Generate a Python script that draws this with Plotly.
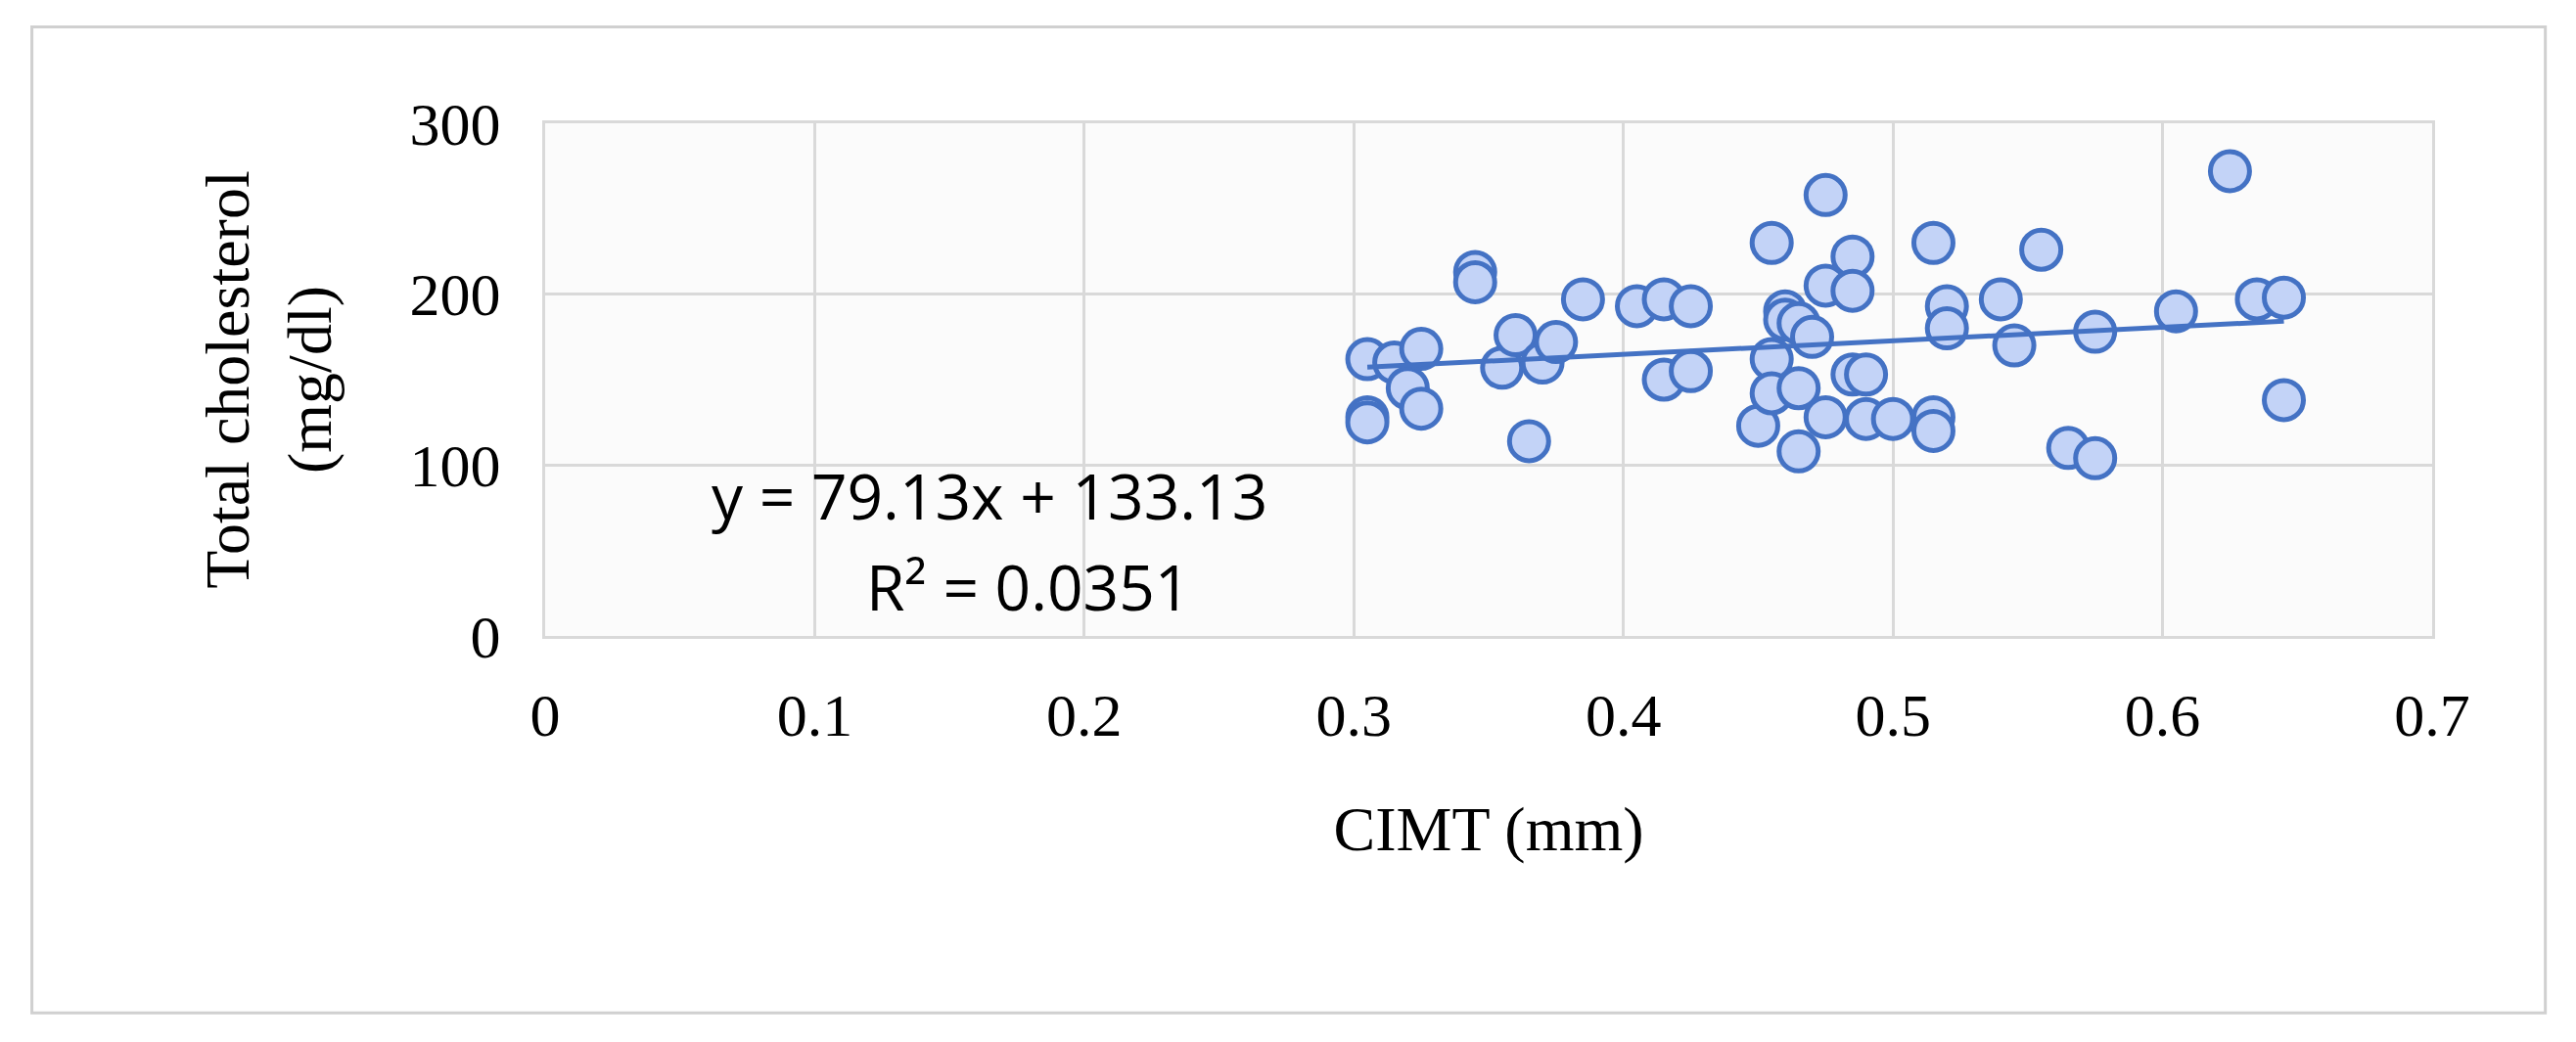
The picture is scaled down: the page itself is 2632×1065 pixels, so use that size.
import plotly.graph_objects as go

# CIMT (mm) and total cholesterol (mg/dl)
cimt = [0.305, 0.305, 0.305, 0.315, 0.32, 0.325, 0.325, 0.345, 0.345, 0.355,
        0.36, 0.365, 0.37, 0.375, 0.385, 0.405, 0.415, 0.415, 0.425, 0.425,
        0.45, 0.455, 0.455, 0.455, 0.46, 0.46, 0.465, 0.465, 0.465, 0.47,
        0.475, 0.475, 0.475, 0.485, 0.485, 0.485, 0.49, 0.49, 0.5, 0.515,
        0.515, 0.515, 0.52, 0.52, 0.54, 0.545, 0.555, 0.565, 0.575, 0.575,
        0.605, 0.625, 0.635, 0.645, 0.645]
chol = [162, 128, 125, 160, 145, 168, 133, 213, 207, 157,
        176, 114, 160, 172, 197, 193, 197, 150, 193, 155,
        123, 230, 162, 142, 190, 185, 183, 145, 108, 175,
        258, 205, 128, 222, 202, 153, 153, 127, 127, 230,
        128, 120, 193, 180, 197, 170, 226, 110, 178, 104,
        190, 272, 197, 198, 138]

slope, intercept = 79.13, 133.13
trend_x = [min(cimt), max(cimt)]
trend_y = [slope * v + intercept for v in trend_x]

serif = "Liberation Serif"

fig = go.Figure()
fig.add_trace(go.Scatter(
    x=cimt, y=chol, mode="markers",
    marker=dict(size=40, color="#c3d3f7",
                line=dict(color="#4472c4", width=5)),
    showlegend=False))
fig.add_trace(go.Scatter(
    x=trend_x, y=trend_y, mode="lines",
    line=dict(color="#4472c4", width=5), showlegend=False))

fig.add_annotation(x=0.165, y=82, text="y = 79.13x + 133.13", showarrow=False,
                   font=dict(family="Open Sans", size=64, color="black"))
fig.add_annotation(x=0.179, y=29, text="R² = 0.0351", showarrow=False,
                   font=dict(family="Open Sans", size=64, color="black"))

# outer chart border
fig.add_shape(type="rect", xref="paper", yref="paper",
              x0=-0.272, x1=1.06, y0=-0.735, y1=1.188,
              line=dict(color="#d0d0d0", width=3))

fig.update_layout(
    width=2632, height=1065,
    margin=dict(l=549, r=155, t=118, b=423),
    paper_bgcolor="white", plot_bgcolor="#fbfbfb",
    font=dict(family=serif, size=62, color="black"))
fig.update_xaxes(range=[0, 0.7], dtick=0.1, tickformat="~g",
                 showgrid=True, gridcolor="#d9d9d9", gridwidth=3,
                 zeroline=False, showline=True, linecolor="#d9d9d9", linewidth=3,
                 mirror=True, ticks="", ticklabelstandoff=25,
                 title=dict(text="CIMT (mm)", font=dict(size=64), standoff=60))
fig.update_yaxes(range=[0, 300], dtick=100,
                 showgrid=True, gridcolor="#d9d9d9", gridwidth=3,
                 zeroline=False, showline=True, linecolor="#d9d9d9", linewidth=3,
                 mirror=True, ticks="", ticklabelstandoff=30,
                 title=dict(text="Total cholesterol<br>(mg/dl)", font=dict(size=64),
                            standoff=60))

fig.write_html("out.html")
